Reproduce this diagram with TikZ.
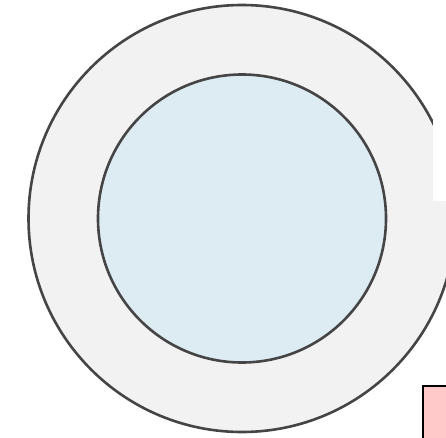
\documentclass[tikz,border=0pt]{standalone}
\usepackage{tikz}
\definecolor{ringgray}{HTML}{F2F2F2}
\definecolor{coreblue}{HTML}{DDEBF3}
\definecolor{strokegray}{HTML}{454545}
\definecolor{boxpink}{HTML}{FFC9C9}
\begin{document}
\begin{tikzpicture}[x=1pt,y=1pt,
  ring/.style={circle, draw=strokegray, line width=2.6pt, inner sep=0pt},
  pinkbox/.style={draw=black, line width=2pt, fill=boxpink, inner sep=0pt, anchor=south west}]
\useasboundingbox (0,0) rectangle (446,437);
\begin{scope}
\clip (0,0) rectangle (446,437);
\node[ring, fill=ringgray, minimum size=427pt] (outer) at (242,218.5) {};
\node[ring, fill=coreblue, minimum size=288pt] (inner) at (242,218.5) {};
\fill[white] (433,236) rectangle (450,440);
\node[pinkbox, minimum width=40pt, minimum height=60pt] (box) at (422,-10) {};
\end{scope}
\end{tikzpicture}
\end{document}
